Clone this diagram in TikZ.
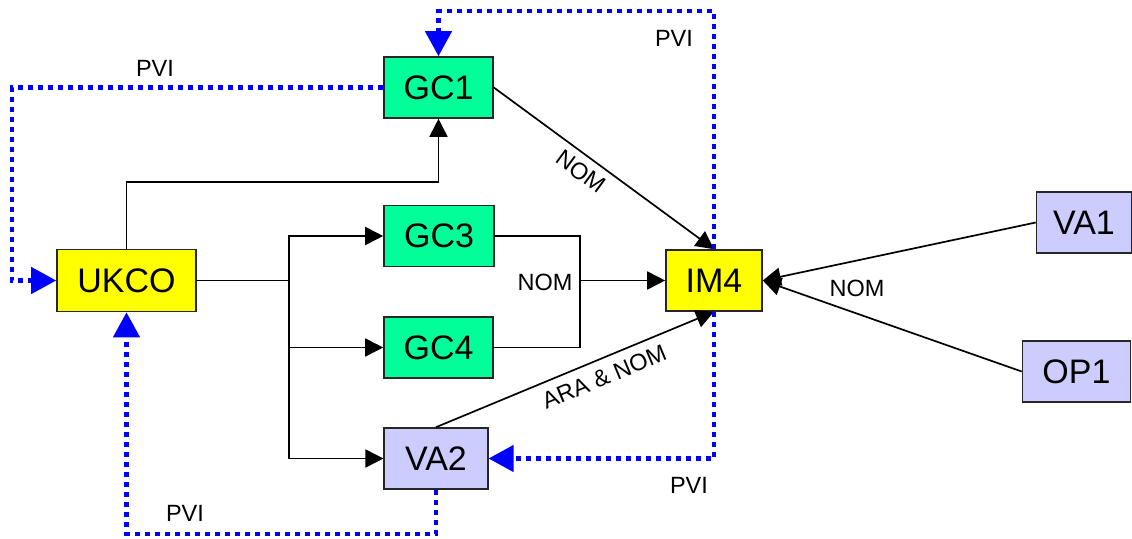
\documentclass[tikz,border=0pt]{standalone}
\usepackage{fontspec}
\setmainfont{Liberation Sans}
\usetikzlibrary{arrows.meta,calc}
\definecolor{gcgreen}{RGB}{0,255,153}
\definecolor{imyellow}{RGB}{255,255,0}
\definecolor{valav}{RGB}{204,204,255}
\definecolor{pviblue}{RGB}{0,0,255}
\begin{document}
\begin{tikzpicture}[x=1pt,y=-1pt,
  box/.style={draw=black!85, line width=1.6pt, inner sep=0pt, minimum height=61pt,
    font=\fontsize{34}{34}\selectfont},
  gbox/.style={box, fill=gcgreen},
  ybox/.style={box, fill=imyellow},
  vbox/.style={box, fill=valav},
  plain/.style={line width=1.7pt, line cap=rect},
  conn/.style={line width=1.7pt, -{Triangle[length=18pt,width=18pt]}},
  pvi/.style={draw=pviblue, line width=4.5pt, dash pattern=on 5pt off 5pt,
    -{Triangle[length=25pt,width=26pt,fill=pviblue]}},
  lab/.style={font=\fontsize{23.5}{23.5}\selectfont, inner sep=2pt}
]
\useasboundingbox (0,0) rectangle (1132,538);

% nodes
\node[gbox, minimum width=109pt] (GC1) at (438.5,87.5) {GC1};
\node[gbox, minimum width=110pt] (GC3) at (439,236) {GC3};
\node[gbox, minimum width=109pt] (GC4) at (438.5,347.5) {GC4};
\node[vbox, minimum width=103.5pt] (VA2) at (436,458.5) {VA2};
\node[ybox, minimum width=139pt, minimum height=62pt] (UKCO) at (126.5,280.5) {UKCO};
\node[ybox, minimum width=96pt] (IM4) at (714,280.5) {IM4};
\node[vbox, minimum width=95pt] (VA1) at (1084,222.5) {VA1};
\node[vbox, minimum width=108pt] (OP1) at (1076.5,371.5) {OP1};

% junction coordinates
\coordinate (J) at (289,280.5);
\coordinate (M) at (580,280.5);

% black connectors
\draw[conn] (UKCO.north) -- ++(0,-66.5) -| (GC1.south);
\draw[plain] (UKCO.east) -- (J);
\draw[plain] (J |- GC3.west) -- (J |- VA2.west);
\draw[conn] (J |- GC3.west) -- (GC3.west);
\draw[conn] (J |- GC4.west) -- (GC4.west);
\draw[conn] (J |- VA2.west) -- (VA2.west);
\draw[plain] (GC3.east) -| (M) |- (GC4.east);
\draw[conn] (M) -- (IM4.west);
\node[lab] (nomM) at (545,282) {NOM};

\draw[conn] (GC1.east) -- (IM4.north)
  node[lab, sloped, below=5pt, pos=0.44] (nomG) {NOM};
\draw[conn] (VA2.north) -- (IM4.south)
  node[lab, sloped, below=7pt, pos=0.58] (ara) {ARA \& NOM};
\draw[conn] (VA1.west) -- (IM4.east);
\draw[conn] (OP1.west) -- (IM4.east);
\node[lab] (nomR) at (857,288) {NOM};

% PVI dotted connectors
\draw[pvi] (GC1.west) -| ($(UKCO.west)+(-44,0)$) -- (UKCO.west);
\draw[pvi] (IM4.north) -- ++(0,-238) -| (GC1.north);
\draw[pvi] (IM4.south) |- (VA2.east);
\draw[pvi] (VA2.south) -- ++(0,44) -| (UKCO.south);

% PVI labels
\node[lab] (pvi1) at (155,68) {PVI};
\node[lab] (pvi2) at (674,38) {PVI};
\node[lab] (pvi3) at (689,485) {PVI};
\node[lab] (pvi4) at (185,513) {PVI};
\end{tikzpicture}
\end{document}
